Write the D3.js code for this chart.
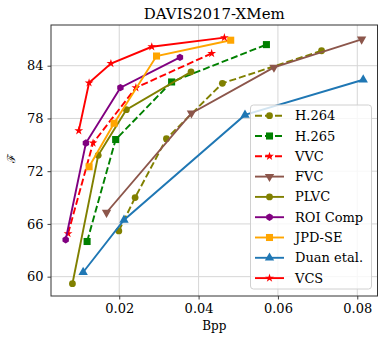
<!DOCTYPE html>
<html>
<head>
<meta charset="utf-8">
<script src="https://cdn.jsdelivr.net/npm/d3@7"></script>
<style>
  body { margin: 0; background: #fff; }
  text { font-family: 'DejaVu Serif', serif; }
</style>
</head>
<body>
<svg width="386" height="341"></svg>
<script>
const svg = d3.select('svg');

// data
const h264 = [[0.0199, 65.2], [0.0240, 69.0], [0.0319, 75.7], [0.0460, 82.0], [0.0710, 85.7]];
const h265 = [[0.0119, 64.0], [0.0191, 75.6], [0.0332, 82.15], [0.0571, 86.4]];
const vvc = [[0.0071, 64.9], [0.0134, 75.2], [0.0242, 81.5], [0.0433, 85.4]];
const fvc = [[0.0168, 67.3], [0.0382, 78.6], [0.0590, 83.8], [0.0811, 87.0]];
const plvc = [[0.0082, 59.2], [0.0147, 73.8], [0.0218, 79.0], [0.0381, 83.3]];
const roiComp = [[0.0065, 64.2], [0.0116, 75.2], [0.0203, 81.5], [0.0353, 84.95]];
const jpdse = [[0.0124, 72.5], [0.0187, 77.45], [0.0294, 85.1], [0.0481, 86.9]];
const duan = [[0.0109, 60.5], [0.0212, 66.45], [0.0517, 78.4], [0.0815, 82.4]];
const vcs = [[0.0098, 76.6], [0.0124, 82.05], [0.0179, 84.25], [0.0282, 86.15], [0.0465, 87.2]];

const xTicks = [0.02, 0.04, 0.06, 0.08];
const yTicks = [60, 66, 72, 78, 84];

const series = [
  { name: 'H.264', data: h264, color: '#808000', dash: true, marker: 'circle' },
  { name: 'H.265', data: h265, color: '#008000', dash: true, marker: 'square' },
  { name: 'VVC', data: vvc, color: '#ff0000', dash: true, marker: 'star' },
  { name: 'FVC', data: fvc, color: '#8c564b', dash: false, marker: 'tridown' },
  { name: 'PLVC', data: plvc, color: '#808000', dash: false, marker: 'circle' },
  { name: 'ROI Comp', data: roiComp, color: '#800080', dash: false, marker: 'hex' },
  { name: 'JPD-SE', data: jpdse, color: '#ffa500', dash: false, marker: 'square' },
  { name: 'Duan etal.', data: duan, color: '#1f77b4', dash: false, marker: 'triup' },
  { name: 'VCS', data: vcs, color: '#ff0000', dash: false, marker: 'star' }
];

const margin = { top: 25, right: 8.5, bottom: 45, left: 51 };
const width = 386, height = 341;
const innerW = width - margin.left - margin.right;
const innerH = height - margin.top - margin.bottom;

const xScale = d3.scaleLinear().domain([0.0028, 0.0851]).range([0, innerW]);
const yScale = d3.scaleLinear().domain([57.8, 88.63]).range([innerH, 0]);

const g = svg.append('g').attr('transform', `translate(${margin.left},${margin.top})`);

// grid
g.append('g').selectAll('line').data(xTicks).enter().append('line')
  .attr('x1', d => xScale(d)).attr('x2', d => xScale(d))
  .attr('y1', 0).attr('y2', innerH)
  .attr('stroke', '#d6d6d6').attr('stroke-width', 1);
g.append('g').selectAll('line').data(yTicks).enter().append('line')
  .attr('y1', d => yScale(d)).attr('y2', d => yScale(d))
  .attr('x1', 0).attr('x2', innerW)
  .attr('stroke', '#d6d6d6').attr('stroke-width', 1);

const xAxis = g.append('g').attr('transform', `translate(0,${innerH})`)
  .call(d3.axisBottom(xScale).tickValues(xTicks).tickFormat(d3.format('.2f')).tickSize(3.5).tickPadding(4));
const yAxis = g.append('g')
  .call(d3.axisLeft(yScale).tickValues(yTicks).tickFormat(d3.format('d')).tickSize(3.5).tickPadding(4));
[xAxis, yAxis].forEach(a => {
  a.select('.domain').remove();
  a.selectAll('text').attr('font-family', 'DejaVu Serif').attr('font-size', 13).attr('fill', '#000');
  a.selectAll('.tick line').attr('stroke', '#444');
});

g.append('rect').attr('width', innerW).attr('height', innerH)
  .attr('fill', 'none').attr('stroke', '#333').attr('stroke-width', 1);

const line = d3.line().x(d => xScale(d[0])).y(d => yScale(d[1]));

const drawMarker = (sel, s, x, y) => {
  const c = s.color;
  if (s.marker === 'circle') {
    sel.append('circle').attr('cx', x).attr('cy', y).attr('r', 3.4).attr('fill', c);
  } else if (s.marker === 'hex') {
    const pts = d3.range(6).map(i => {
      const a = Math.PI / 6 + i * Math.PI / 3;
      return [x + 3.7 * Math.cos(a), y + 3.7 * Math.sin(a)];
    });
    sel.append('polygon').attr('points', pts.map(p => p.join(',')).join(' ')).attr('fill', c);
  } else {
    const type = { square: d3.symbolSquare, star: d3.symbolStar, tridown: d3.symbolTriangle, triup: d3.symbolTriangle }[s.marker];
    const size = { square: 50, star: 24, tridown: 38, triup: 38 }[s.marker];
    const rot = s.marker === 'tridown' ? 180 : 0;
    sel.append('path').attr('d', d3.symbol().type(type).size(size)())
      .attr('transform', `translate(${x},${y}) rotate(${rot})`)
      .attr('fill', c);
  }
};

series.forEach(s => {
  g.append('path').datum(s.data)
    .attr('d', line)
    .attr('fill', 'none')
    .attr('stroke', s.color)
    .attr('stroke-width', 1.9)
    .attr('stroke-dasharray', s.dash ? '7,3' : null);
  const mg = g.append('g');
  s.data.forEach(d => drawMarker(mg, s, xScale(d[0]), yScale(d[1])));
});

// legend
const lg = svg.append('g');
lg.append('rect').attr('x', 250.5).attr('y', 105).attr('width', 121).attr('height', 184)
  .attr('rx', 3).attr('fill', '#fff').attr('fill-opacity', 0.8)
  .attr('stroke', '#d0d0d0').attr('stroke-width', 1);
series.forEach((s, i) => {
  const yy = 115.7 + i * 20.3;
  lg.append('line').attr('x1', 255).attr('x2', 284).attr('y1', yy).attr('y2', yy)
    .attr('stroke', s.color).attr('stroke-width', 1.9)
    .attr('stroke-dasharray', s.dash ? '7,3' : null);
  drawMarker(lg, s, 269.5, yy);
  lg.append('text').attr('x', 295).attr('y', yy).attr('dy', '0.35em')
    .attr('font-size', 13).text(s.name);
});

// labels
svg.append('text').attr('x', margin.left + innerW / 2).attr('y', 19)
  .attr('text-anchor', 'middle').attr('font-size', 15).text('DAVIS2017-XMem');
svg.append('text').attr('x', margin.left + innerW / 2).attr('y', 330)
  .attr('text-anchor', 'middle').attr('font-size', 12).text('Bpp');
svg.append('text').attr('transform', 'translate(15,158) rotate(-90)')
  .attr('text-anchor', 'middle').attr('font-size', 11).text('ℱ');
</script>
</body>
</html>
